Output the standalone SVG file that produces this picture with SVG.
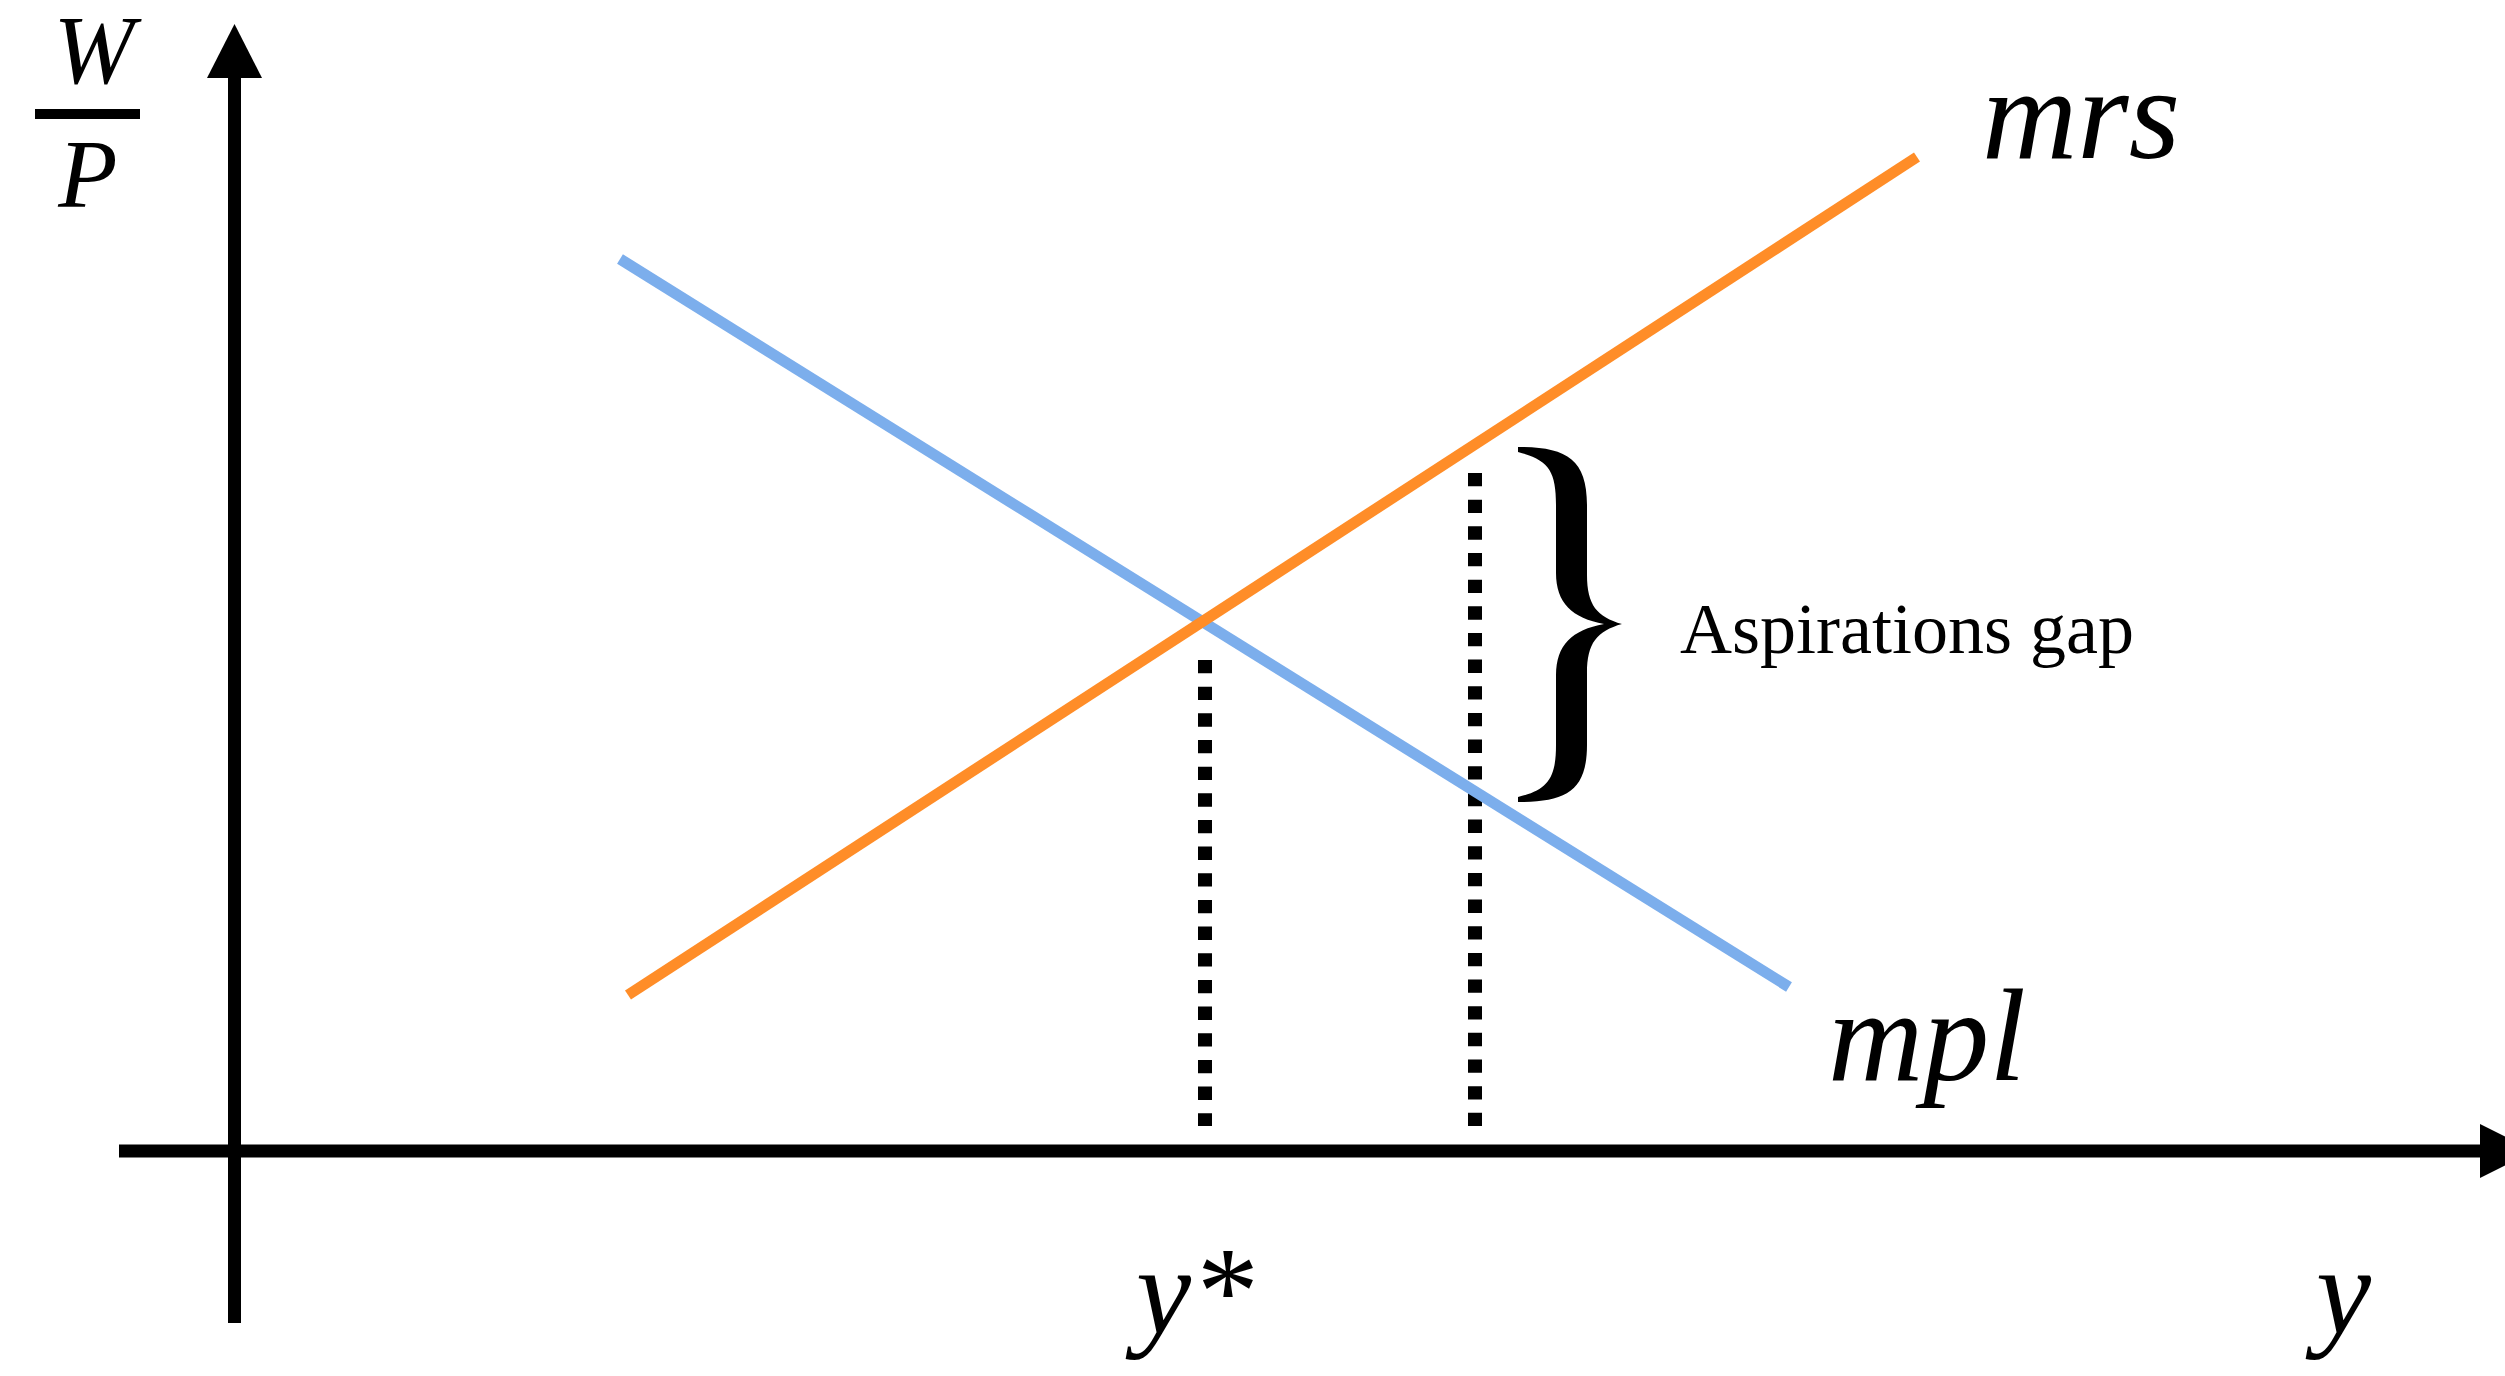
<svg xmlns="http://www.w3.org/2000/svg" width="2505" height="1376" viewBox="0 0 2505 1376">
<style>
.ax{stroke:#000;stroke-width:13;fill:none}
.ah{fill:#000}
.dot{stroke:#000;stroke-width:14;stroke-dasharray:13.33 13.33;fill:none}
.lbl{font-family:'Liberation Serif','DejaVu Serif',serif;font-style:italic;fill:#000}
.txt{font-family:'Liberation Serif','DejaVu Serif',serif;fill:#000}
</style>
<rect width="2505" height="1376" fill="#fff"/>
<g id="connectors">
<line class="ax" x1="234.5" y1="76" x2="234.5" y2="1323"/>
<polygon class="ah" points="234.5,24 207,78 262,78"/>
<line class="ax" x1="119" y1="1151" x2="2482" y2="1151"/>
<polygon class="ah" points="2534,1151 2480,1124 2480,1178"/>
<line class="dot" x1="1205" y1="660" x2="1205" y2="1126"/>
<line class="dot" x1="1475" y1="473" x2="1475" y2="1126"/>
</g>
<g id="mpl-curve"><line x1="620" y1="259" x2="1789" y2="987" stroke="#7CAEEC" stroke-width="11"/></g>
<g id="mrs-curve"><line x1="628" y1="995" x2="1917" y2="157" stroke="#FF8D28" stroke-width="11"/></g>
<g id="brace">
<path fill="#000" d="M1518,447 C1565,447 1587,458 1587,505 L1587,575 C1587,605 1597,617 1622,624 C1597,631 1587,643 1587,673 L1587,745 C1587,792 1565,802 1518,802 L1518,797 C1548,790 1556,778 1556,745 L1556,675 C1556,645 1572,630 1604,624 C1572,618 1556,603 1556,573 L1556,505 C1556,470 1548,460 1518,452 Z"/>
</g>
<g id="y-axis-label">
<text class="lbl" x="94" y="83" font-size="97" text-anchor="middle">W</text>
<rect x="35" y="109" width="105" height="10" fill="#000"/>
<text class="lbl" x="88" y="207" font-size="97" text-anchor="middle">P</text>
</g>
<g id="label-mrs"><text class="lbl" x="1982" y="158" font-size="132">mrs</text></g>
<g id="label-mpl"><text class="lbl" x="1828" y="1080" font-size="132">mpl</text></g>
<g id="label-gap"><text class="txt" x="1680" y="653" font-size="72">Aspirations gap</text></g>
<g id="label-ystar"><text class="lbl" x="1136" y="1333" font-size="124">y*</text></g>
<g id="label-y"><text class="lbl" x="2316" y="1333" font-size="124">y</text></g>
</svg>
